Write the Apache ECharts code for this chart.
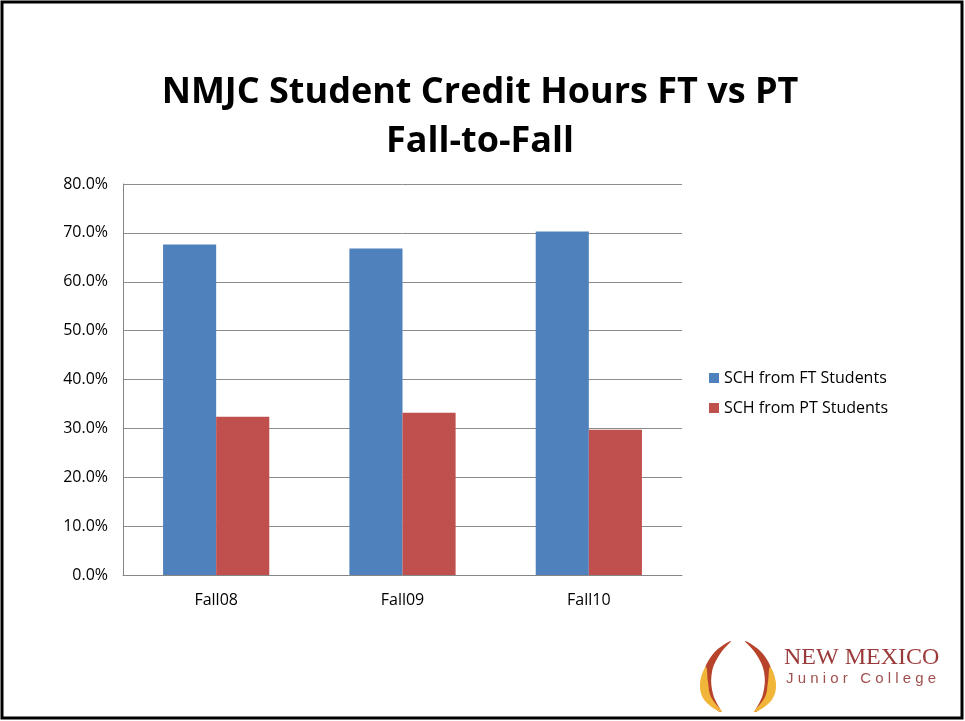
<!DOCTYPE html>
<html lang="en">
  <head>
    <meta charset="UTF-8" />
    <title>NMJC Student Credit Hours FT vs PT</title>
    <script src="https://cdn.jsdelivr.net/npm/echarts@6/dist/echarts.min.js"></script>
    <style>
      html, body { margin: 0; padding: 0; background: #fff; }
      #main { width: 965px; height: 721px; }
    </style>
  </head>
  <body>
    <div id="main"></div>
    <script>
      const categories = ["Fall08", "Fall09", "Fall10"];
      const ftStudents = [67.6, 66.8, 70.3];
      const ptStudents = [32.4, 33.2, 29.7];
      const seriesNames = ["SCH from FT Students", "SCH from PT Students"];

      const chart = echarts.init(document.getElementById("main"));
      const font = "'Open Sans', 'Liberation Sans', sans-serif";

      // logo flame outlines, left side; right side is mirrored around cx
      const cx = 738;
      const redFlame = [[731, 641], [713, 654], [703, 677], [707, 699], [721, 712], [713, 694], [712, 672], [720, 654]];
      const yellowFlame = [[706, 667], [700, 684], [705, 701], [722, 712], [711, 697], [708, 682]];
      const mirror = (pts) => pts.map(([x, y]) => [2 * cx - x, y]);

      const option = {
        animation: false,
        textStyle: { fontFamily: font },
        title: {
          text: "NMJC Student Credit Hours FT vs PT\nFall-to-Fall",
          left: 475,
          textAlign: "center",
          top: 63,
          textStyle: {
            fontFamily: font,
            fontSize: 36,
            fontWeight: "bold",
            color: "#000",
            lineHeight: 49,
          },
        },
        legend: {
          orient: "vertical",
          left: 704,
          top: 362,
          itemWidth: 10,
          itemHeight: 10,
          itemGap: 8,
          icon: "rect",
          textStyle: { fontSize: 16, color: "#000", fontFamily: font, lineHeight: 22 },
          data: seriesNames,
        },
        grid: { left: 123, right: 283, top: 184, bottom: 146 },
        xAxis: {
          type: "category",
          data: categories,
          axisLine: { lineStyle: { color: "#868686" } },
          axisTick: { show: false },
          axisLabel: { color: "#000", fontSize: 16, margin: 17 },
        },
        yAxis: {
          type: "value",
          min: 0,
          max: 80,
          interval: 10,
          axisLine: { show: true, lineStyle: { color: "#868686" } },
          axisTick: { show: false },
          splitLine: { lineStyle: { color: "#8c8c8c", width: 1 } },
          axisLabel: {
            color: "#000",
            fontSize: 16,
            margin: 15,
            formatter: (v) => v.toFixed(1) + "%",
          },
        },
        series: [
          {
            name: seriesNames[0],
            type: "bar",
            data: ftStudents,
            barGap: "0%",
            barCategoryGap: "43%",
            itemStyle: { color: "#4f81bd" },
          },
          {
            name: seriesNames[1],
            type: "bar",
            data: ptStudents,
            itemStyle: { color: "#c0504d" },
          },
        ],
        graphic: [
          {
            type: "rect",
            shape: { x: 2, y: 2, width: 960, height: 716 },
            style: { fill: "none", stroke: "#000", lineWidth: 3 },
            silent: true,
          },
          { type: "polygon", shape: { points: redFlame, smooth: 0.4 }, style: { fill: "#b8432b" } },
          { type: "polygon", shape: { points: yellowFlame, smooth: 0.4 }, style: { fill: "#f1b53a" } },
          { type: "polygon", shape: { points: mirror(redFlame), smooth: 0.4 }, style: { fill: "#b8432b" } },
          { type: "polygon", shape: { points: mirror(yellowFlame), smooth: 0.4 }, style: { fill: "#f1b53a" } },
          {
            type: "text",
            left: 784,
            top: 646,
            style: {
              text: "NEW MEXICO",
              font: "24px 'Liberation Serif', serif",
              fill: "#9b3a3a",
            },
          },
          {
            type: "text",
            left: 786,
            top: 671,
            style: {
              text: "J u n i o r   C o l l e g e",
              font: "15px 'Liberation Sans', sans-serif",
              fill: "#a05050",
            },
          },
        ],
      };

      chart.setOption(option);
    </script>
  </body>
</html>
